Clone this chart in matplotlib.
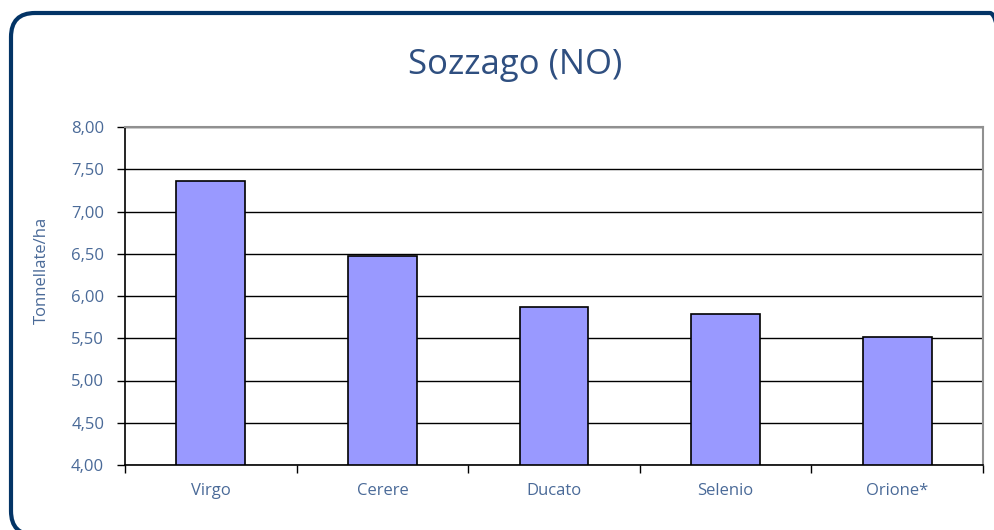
import matplotlib
matplotlib.use('Agg')
import matplotlib.pyplot as plt
from matplotlib.patches import FancyBboxPatch
from matplotlib.transforms import IdentityTransform
from matplotlib.ticker import MultipleLocator, FuncFormatter

# chart data
varieties = ['Virgo', 'Cerere', 'Ducato', 'Selenio', 'Orione*']
yields = [7.36, 6.47, 5.87, 5.79, 5.51]

txtCol = '#4a6a98'
titleCol = '#2f4f80'
barCol = '#9999ff'
frameCol = '#033466'

plt.rcParams['font.family'] = ['Open Sans', 'DejaVu Sans']

fig = plt.figure(figsize=(9.95, 5.3), dpi=100)
W, H = 995, 530

# rounded outer frame in pixels, right and bottom edges run off the picture
box = FancyBboxPatch(
    (11, -5), 1003, 522,
    boxstyle='round,pad=0,rounding_size=24',
    transform=IdentityTransform(), facecolor='none', edgecolor=frameCol,
    linewidth=3, zorder=-1
)
fig.patches.append(box)

ax = fig.add_axes([125 / W, 1 - 465 / H, (983 - 125) / W, (465 - 127) / H])
ax.set_facecolor('none')

xs = range(len(varieties))
ax.bar(xs, [v - 4 for v in yields], bottom=4, width=0.4, color=barCol,
       edgecolor='black', linewidth=1.2, zorder=3)

ax.set_xlim(-0.5, len(varieties) - 0.5)
ax.set_ylim(4, 8)
ax.yaxis.set_major_locator(MultipleLocator(0.5))
ax.yaxis.set_major_formatter(FuncFormatter(lambda v, p: ('%.2f' % v).replace('.', ',')))
ax.grid(axis='y', color='black', linewidth=1, zorder=1)

ax.set_xticks(list(xs))
ax.set_xticklabels(varieties)
ax.set_xticks([i + 0.5 for i in range(-1, len(varieties))], minor=True)
ax.tick_params(axis='x', which='major', length=0, pad=13, labelsize=12, labelcolor=txtCol)
ax.tick_params(axis='x', which='minor', length=6, width=1, direction='out', color='black')
ax.tick_params(axis='y', length=6, width=1, direction='out', labelsize=12,
               labelcolor=txtCol, pad=9)

for side in ['top', 'right']:
    ax.spines[side].set_color('#909090')
    ax.spines[side].set_linewidth(1.5)
for side in ['left', 'bottom']:
    ax.spines[side].set_color('black')
    ax.spines[side].set_linewidth(1.2)

ax.set_ylabel('Tonnellate/ha', color=txtCol, fontsize=12)
ax.yaxis.set_label_coords(-0.087, 0.577)

fig.text(515 / W, 1 - 65 / H, 'Sozzago (NO)', color=titleCol, fontsize=25,
         ha='center', va='center')

fig.savefig('out.png', dpi=100)
